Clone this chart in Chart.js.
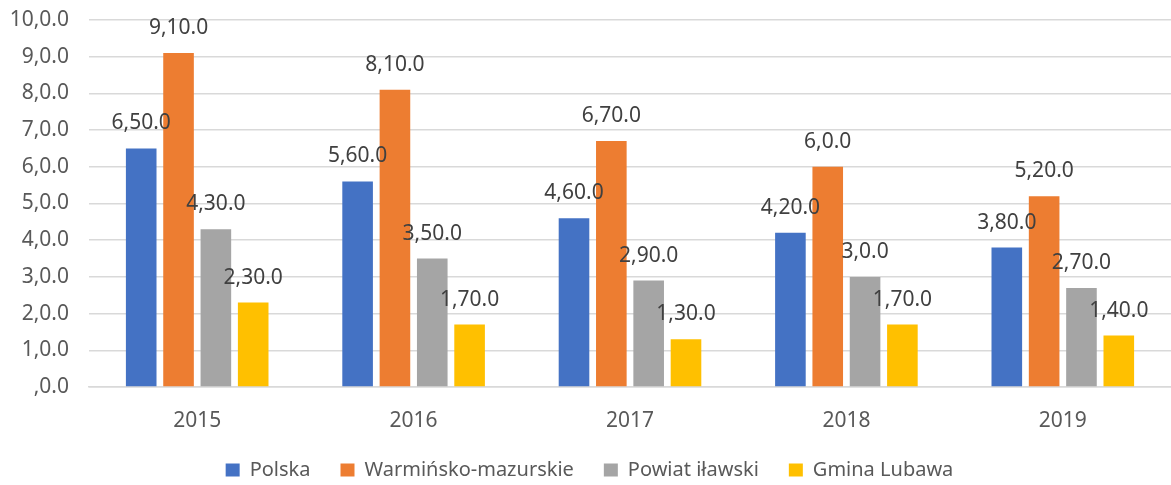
<!DOCTYPE html>
<html>
<head>
<meta charset="utf-8">
<script src="https://cdn.jsdelivr.net/npm/chart.js@4"></script>
<style>
  html, body { margin: 0; padding: 0; background: #fff; }
  #wrap { width: 1171px; height: 485px; }
</style>
</head>
<body>
<div id="wrap"><canvas id="chart"></canvas></div>
<script>
// Data
const years = ['2015', '2016', '2017', '2018', '2019'];
const polska = [6.5, 5.6, 4.6, 4.2, 3.8];
const warminsko = [9.1, 8.1, 6.7, 6.0, 5.2];
const powiat = [4.3, 3.5, 2.9, 3.0, 2.7];
const gmina = [2.3, 1.7, 1.3, 1.7, 1.4];
const yTickLabels = [',0.0', '1,0.0', '2,0.0', '3,0.0', '4,0.0', '5,0.0', '6,0.0', '7,0.0', '8,0.0', '9,0.0', '10,0.0'];

const FONT = '"Noto Sans", "Open Sans", sans-serif';

// the source uses an odd number format, e.g. 6.5 -> "6,50.0"
function fmt(v) {
    const i = Math.floor(v + 1e-9);
    const d = Math.round((v - i) * 10);
    return (i ? i : '') + ',' + (d ? d : '') + '0.0';
}

// draw value labels above bars
const valueLabels = {
    id: 'valueLabels',
    afterDatasetsDraw(chart) {
        const ctx = chart.ctx;
        ctx.save();
        ctx.font = '21px ' + FONT;
        ctx.fillStyle = '#404040';
        ctx.textAlign = 'center';
        ctx.textBaseline = 'alphabetic';
        chart.data.datasets.forEach((ds, i) => {
            chart.getDatasetMeta(i).data.forEach((bar, j) => {
                ctx.fillText(fmt(ds.data[j]), bar.x, bar.y - 19);
            });
        });
        ctx.restore();
    }
};

const ctx = document.getElementById('chart').getContext('2d');
new Chart(ctx, {
    type: 'bar',
    data: {
        labels: years,
        datasets: [
            { label: 'Polska', data: polska, backgroundColor: '#4472C4' },
            { label: 'Warmińsko-mazurskie', data: warminsko, backgroundColor: '#ED7D31' },
            { label: 'Powiat iławski', data: powiat, backgroundColor: '#A5A5A5' },
            { label: 'Gmina Lubawa', data: gmina, backgroundColor: '#FFC000' }
        ]
    },
    options: {
        responsive: true,
        maintainAspectRatio: false,
        animation: false,
        datasets: {
            bar: { categoryPercentage: 0.69, barPercentage: 0.82 }
        },
        layout: { padding: { left: 8, right: 0, top: 20, bottom: -5 } },
        plugins: {
            legend: {
                position: 'bottom',
                labels: {
                    font: { family: FONT, size: 20 },
                    color: '#595959',
                    boxWidth: 14,
                    boxHeight: 13,
                    padding: 30
                }
            },
            tooltip: { enabled: false }
        },
        scales: {
            y: {
                min: 0,
                max: 10,
                afterFit: function(scale) {
                    scale.width = 81;
                    scale.paddingTop = 0;
                    scale.paddingBottom = 0;
                },
                ticks: {
                    stepSize: 1,
                    padding: 20,
                    color: '#595959',
                    font: { family: FONT, size: 21 },
                    callback: function(value, index) {
                        return yTickLabels[index];
                    }
                },
                grid: { color: '#d9d9d9', lineWidth: 1.5, drawTicks: false },
                border: { display: false }
            },
            x: {
                afterFit: function(scale) { scale.height = 43; },
                ticks: {
                    color: '#595959',
                    padding: 21,
                    font: { family: FONT, size: 21 }
                },
                grid: { display: false, drawTicks: false },
                border: { color: '#d9d9d9', width: 1.5 }
            }
        }
    },
    plugins: [valueLabels]
});
</script>
</body>
</html>
